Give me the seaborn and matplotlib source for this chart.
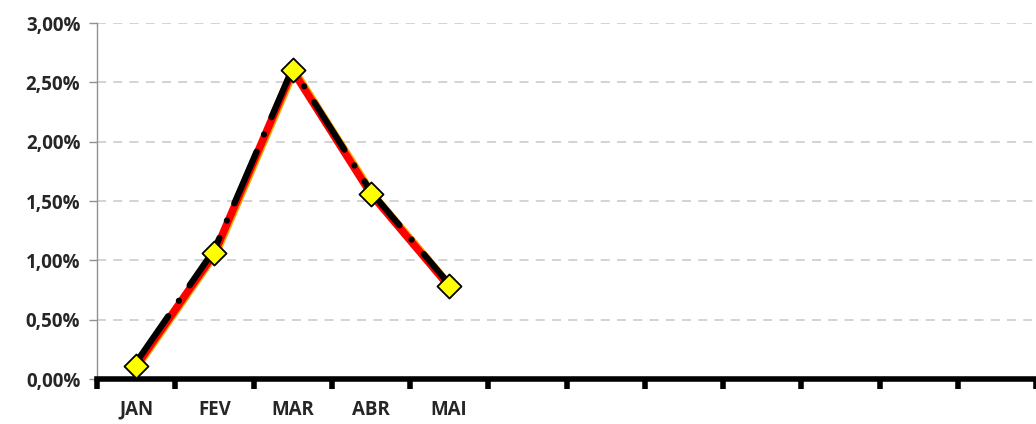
import pandas as pd
import matplotlib.pyplot as plt
import matplotlib.transforms as mtransforms
import seaborn as sns

# Monthly values (%), only Jan-May filled
months = ["JAN", "FEV", "MAR", "ABR", "MAI", "", "", "", "", "", "", ""]
values = [0.11, 1.06, 2.60, 1.56, 0.78]
trend = [0.14, 1.09, 2.62, 1.58, 0.80]

data = pd.DataFrame({"pos": range(len(values)), "value": values})
trend_data = pd.DataFrame({"pos": range(len(trend)), "value": trend})

sns.set_style("white")
plt.rcParams["font.family"] = ["Open Sans", "DejaVu Sans"]

fig = plt.figure(figsize=(10.36, 4.24), dpi=100)
ax = fig.add_axes([97 / 1036, 45 / 424, 939 / 1036, 356 / 424])

# thin orange edge line under the red one
shift = mtransforms.offset_copy(ax.transData, fig=fig, x=1.5, y=0, units="points")
ax.plot(data["pos"], data["value"], color="#FFA500", lw=5, transform=shift, zorder=2)
sns.lineplot(data=data, x="pos", y="value", color="red", lw=5.5, ax=ax, zorder=3)
ax.plot(trend_data["pos"], trend_data["value"], color="black", lw=4.5, zorder=4,
        dashes=(9, 3, 0.01, 3), dash_capstyle="round")
sns.scatterplot(data=data, x="pos", y="value", marker="D", s=150, color="#FFFF00",
                edgecolor="black", linewidth=1.3, ax=ax, zorder=5)

ax.set_xlim(-0.5, -0.5 + 939 / 78.9)
ax.set_ylim(0, 3.0)
ax.set_yticks([0, 0.5, 1.0, 1.5, 2.0, 2.5, 3.0])
ax.set_yticklabels([f"{v:.2f}%".replace(".", ",") for v in ax.get_yticks()],
                   fontsize=13.5, fontweight="bold")
ax.yaxis.grid(True, color="#D0D0D0", linestyle=(0, (5, 4)), lw=1.3)

ax.set_xticks(range(len(months)))
ax.set_xticklabels(months, fontsize=13.5, fontweight="bold")
ax.set_xticks([i - 0.5 for i in range(len(months) + 1)], minor=True)
ax.tick_params(axis="x", which="major", bottom=True, length=0, pad=15)
ax.tick_params(axis="x", which="minor", bottom=True, length=7, width=4, color="black",
               direction="out")
ax.tick_params(axis="y", left=True, length=6, width=1, color="#909090", direction="out", pad=6)
ax.set_xlabel("")
ax.set_ylabel("")

for side in ["top", "right"]:
    ax.spines[side].set_visible(False)
ax.spines["left"].set_color("#909090")
ax.spines["left"].set_linewidth(1)
ax.spines["bottom"].set_color("black")
ax.spines["bottom"].set_linewidth(4)

plt.savefig("out.png", dpi=100)
